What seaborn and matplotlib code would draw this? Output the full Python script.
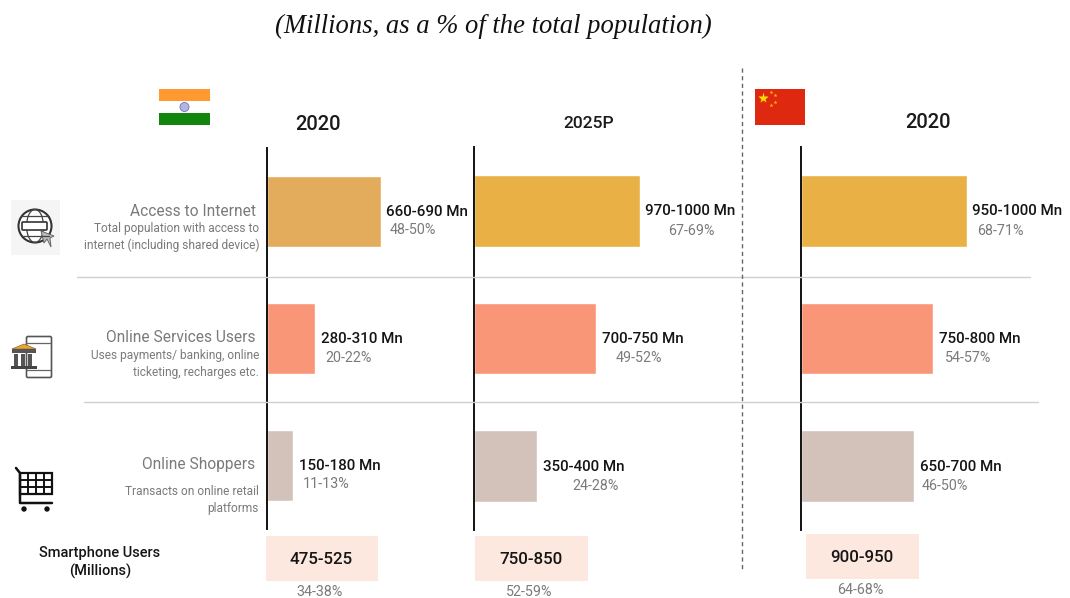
import matplotlib
matplotlib.use("Agg")
import matplotlib.pyplot as plt
from matplotlib.patches import Rectangle, Circle, Ellipse, Polygon, FancyBboxPatch
from matplotlib.lines import Line2D
import pandas as pd
import seaborn as sns

# ---------- data ----------
categories = ["Access to Internet", "Online Services Users", "Online Shoppers"]
india_2020 = [676, 285, 154]
india_2025 = [985, 722, 372]
china_2020 = [985, 785, 676]
panel_titles = ["2020", "2025P", "2020"]
value_labels = [
    ["660-690 Mn", "280-310 Mn", "150-180 Mn"],
    ["970-1000 Mn", "700-750 Mn", "350-400 Mn"],
    ["950-1000 Mn", "750-800 Mn", "650-700 Mn"],
]
pct_labels = [
    ["48-50%", "20-22%", "11-13%"],
    ["67-69%", "49-52%", "24-28%"],
    ["68-71%", "54-57%", "46-50%"],
]
descriptions = [
    "Total population with access to\ninternet (including shared device)",
    "Uses payments/ banking, online\nticketing, recharges etc.",
    "Transacts on online retail\nplatforms",
]
smartphone_vals = ["475-525", "750-850", "900-950"]
smartphone_pct = ["34-38%", "52-59%", "64-68%"]
title = "(Millions, as a % of the total population)"

colors_first = ["#E3AB5C", "#FA9678", "#D3C2BA"]
colors_other = ["#E9B045", "#FA9678", "#D3C2BA"]

W, H = 1070, 598
GREY = "#7a7a7a"
sns.set_theme(style="white")
plt.rcParams["font.family"] = ["Roboto", "DejaVu Sans"]
fig = plt.figure(figsize=(W / 100, H / 100), dpi=100, facecolor="white")


def add_panel(left, top, bottom, vals, colors, vlabels, plabels, pct_dx, pct_dy):
    width_px = 260
    ax = fig.add_axes([left / W, 1 - bottom / H, width_px / W, (bottom - top) / H])
    df = pd.DataFrame({"cat": categories, "val": vals})
    sns.barplot(data=df, y="cat", x="val", hue="cat", palette=colors, legend=False,
                width=0.56, saturation=1, ax=ax, orient="h")
    ax.set_xlim(0, width_px * 5.93)
    ax.set_ylim(2.5, -0.5)
    ax.set_xlabel("")
    ax.set_ylabel("")
    ax.set_xticks([])
    ax.set_yticks([])
    for s in ["top", "right", "bottom"]:
        ax.spines[s].set_visible(False)
    ax.spines["left"].set_color("#111111")
    ax.spines["left"].set_linewidth(1.4)
    ax.patch.set_alpha(0)
    for i, v in enumerate(vals):
        ax.annotate(vlabels[i], (v, i), xytext=(5 if i == 0 else 6, -0.5), textcoords="offset pixels",
                    fontsize=10.9, fontweight="medium", color="#151515", va="center", ha="left")
        ax.annotate(plabels[i], (v, i), xytext=(pct_dx[i], pct_dy), textcoords="offset pixels",
                    fontsize=10.3, color=GREY, va="center", ha="left")
    return ax


add_panel(267, 148, 529, india_2020, colors_first, value_labels[0], pct_labels[0], [9, 10, 10], -19)
add_panel(474, 147, 530, india_2025, colors_other, value_labels[1], pct_labels[1], [28, 20, 36], -20)
add_panel(800.5, 147, 530, china_2020, colors_other, value_labels[2], pct_labels[2], [11, 12, 7], -20)

# overlay in pixel coordinates for annotation furniture
ov = fig.add_axes([0, 0, 1, 1], zorder=5)
ov.set_xlim(0, W)
ov.set_ylim(H, 0)
ov.axis("off")
ov.patch.set_alpha(0)

ov.text(493, 26, title, family="Liberation Serif", style="italic", fontsize=19.2,
        color="#111111", ha="center", va="center")

for x, y, t, fs in zip([318.5, 588.5, 928], [124, 124, 122], panel_titles, [14.5, 12.5, 14.5]):
    ov.text(x, y, t, fontsize=fs, fontweight="medium", color="#1a1a1a", ha="center", va="center")

ov.add_line(Line2D([77, 1030], [277, 277], color="#cfcfcf", lw=1))
ov.add_line(Line2D([84, 1038], [402, 402], color="#cfcfcf", lw=1))
ov.add_line(Line2D([741.5, 741.5], [68, 572], color="#666666", lw=1, ls=(0, (3, 2.5))))

# row labels
for y, yd, cat, d in zip([211, 338, 464], [237, 364, 500], categories, descriptions):
    ov.text(255.5, y, cat, fontsize=11.2, color=GREY, ha="right", va="center")
    ov.text(259, yd, d, fontsize=8.6, color=GREY, ha="right", va="center",
            linespacing=1.32)

# smartphone row
ov.text(100, 562.5, "Smartphone Users\n(Millions)", fontsize=10.5, fontweight="medium", color="#151515",
        ha="center", va="center", linespacing=1.3)
boxes = [(266, 536, 112, 45), (475, 536, 113, 45), (806, 534, 113, 45)]
for (x, y, w, h), v, p in zip(boxes, smartphone_vals, smartphone_pct):
    ov.add_patch(Rectangle((x, y), w, h, fc="#FDE8E0", ec="none"))
    ov.text(x + w / 2 - 1, y + h / 2 + 0.5, v, fontsize=12.2, fontweight="medium", color="#151515",
            ha="center", va="center")
    ov.text(x + w / 2 - 2, y + h + 11, p, fontsize=10.3, color=GREY,
            ha="center", va="center")

# India flag
ov.add_patch(Rectangle((159, 89), 51, 12, fc="#FF9A33", ec="none"))
ov.add_patch(Rectangle((159, 113), 51, 12, fc="#12860C", ec="none"))
ov.add_patch(Circle((184.5, 107), 4.5, fc="#B4B4E0", ec="#7070B8", lw=0.6))

# China flag
ov.add_patch(Rectangle((755, 89), 49.5, 36, fc="#DE2910", ec="none"))
ov.plot([763], [98], marker="*", ms=8, color="#FFDE00", mec="none")
for sx, sy in [(771, 92), (775, 95), (775, 102), (771, 105)]:
    ov.plot([sx], [sy], marker="*", ms=3, color="#F5B800", mec="none")

# globe icon
ov.add_patch(Rectangle((11, 200), 49, 55, fc="#F5F5F5", ec="none"))
ov.add_patch(Circle((35, 226), 16.5, fc="white", ec="#333333", lw=1.5))
ov.add_patch(Ellipse((35, 226), 17, 33, fc="none", ec="#444444", lw=0.9))
for yy in [216, 236]:
    ov.add_line(Line2D([21, 49], [yy, yy], color="#444444", lw=0.9))
ov.add_patch(FancyBboxPatch((23, 223), 23, 6, boxstyle="round,pad=1", fc="white", ec="#333333", lw=1.2))
ov.add_patch(Polygon([[41, 231], [44, 243], [47, 239], [51, 247], [50, 238], [54, 236]], fc="#BBBBBB", ec="#666666", lw=0.7))

# phone + bank icon
ov.add_patch(FancyBboxPatch((28, 338), 22, 38, boxstyle="round,pad=1.5", fc="white", ec="#555555", lw=1.2))
ov.add_line(Line2D([27, 50], [343, 343], color="#666666", lw=0.9))
ov.add_line(Line2D([27, 50], [370, 370], color="#666666", lw=0.9))
ov.add_patch(Polygon([[12, 349], [24, 344], [36, 349]], fc="#E9A72E", ec="#8a6a2a", lw=0.5))
ov.add_patch(Rectangle((12, 349), 24, 4, fc="#555555", ec="none"))
for px in [14, 21, 28]:
    ov.add_patch(Rectangle((px, 354), 4, 12, fc="#555555", ec="none"))
ov.add_patch(Rectangle((11, 366), 26, 2.5, fc="#444444", ec="none"))

# cart icon
ov.add_line(Line2D([16, 20, 20, 52], [468, 473, 503, 503], color="#111111", lw=1.8))
ov.add_patch(Rectangle((20, 473), 32, 21, fc="white", ec="#111111", lw=1.6))
for xx in [28, 36, 44]:
    ov.add_line(Line2D([xx, xx], [473, 494], color="#111111", lw=1.4))
for yy in [480, 487]:
    ov.add_line(Line2D([20, 52], [yy, yy], color="#111111", lw=1.4))
ov.add_patch(Circle((24, 509), 2.7, fc="#111111", ec="none"))
ov.add_patch(Circle((47, 509), 2.7, fc="#111111", ec="none"))

fig.savefig("out.png", dpi=100, facecolor="white")
